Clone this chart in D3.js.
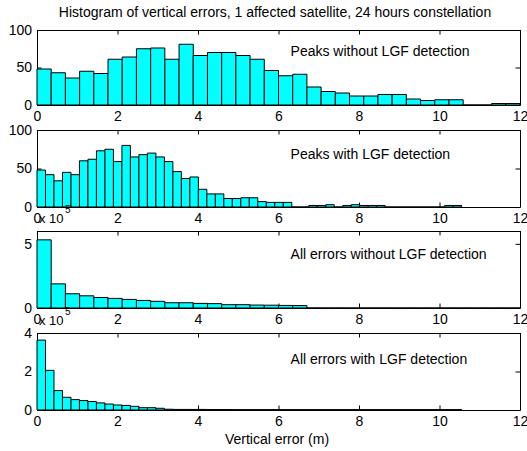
<!DOCTYPE html>
<html>
<head>
<meta charset="utf-8">
<script src="https://cdn.jsdelivr.net/npm/d3@7"></script>
<style>
  html, body { margin: 0; padding: 0; background: #fff; }
  svg { display: block; }
  text { font-family: "Liberation Sans", Arial, Helvetica, sans-serif; fill: #000; }
</style>
</head>
<body>
<svg id="chart" width="527" height="451"></svg>
<script>
// Histogram counts per bin (vertical error in metres)
const peaksWithoutLGF = [48, 43, 36, 45, 42, 61, 64, 75, 76, 61, 81, 66, 70, 70, 66, 61, 46,
  39, 41, 24, 18, 16, 12, 12, 14, 14, 8, 6, 7, 7, 0, 0, 2, 2];
const peaksWithLGF = [48, 42, 34, 45, 42, 60, 62, 73, 75, 59, 80, 65, 68, 70, 65, 59, 46,
  37, 39, 23, 17, 17, 11, 11, 12, 12, 7, 6, 6, 6, 0, 0, 2, 2, 3, 0, 2, 3, 2, 2,
  2, 0, 0, 0, 0, 0, 0, 0, 2, 2];
const allWithoutLGF = [531000, 188000, 111000, 95000, 82000, 75000, 67000, 59000, 52000,
  41000, 41000, 36000, 34000, 26000, 26000, 23000, 22000, 20000, 19000,
  0, 0, 0, 0, 0, 0, 0, 0, 0, 0, 0, 0, 0, 0, 0];
const allWithLGF = [363000, 206000, 101000, 66000, 54000, 49000, 44000, 37000, 31000,
  26000, 24000, 19000, 12000, 12000, 9000, 4000, 3000, 3000, 3000, 3000, 2500, 2500,
  2500, 2000, 2000, 2000, 2000, 2000, 2000, 2000, 2000, 2000, 2000, 2000, 2000, 2000,
  2000, 2000, 2000, 2000, 2000, 2000, 2000, 2000, 2000, 2000, 2000, 2000, 2000, 2000];

// Bin widths (m) for the two histogram resolutions
const coarseBinWidth = 12 / 34;
const fineBinWidth = 10.55 / 50;

const xTicks = [0, 2, 4, 6, 8, 10, 12];
const panelLabels = ["Peaks without LGF detection", "Peaks with LGF detection",
  "All errors without LGF detection", "All errors with LGF detection"];
const yMax = [100, 100, 600000, 400000];
const yTicks = [[0, 50, 100], [0, 50, 100], [0, 500000], [0, 200000, 400000]];
const yScaleExp = [0, 0, 5, 5];
const labelPos = [[6.3, 66], [6.3, 62.6], [6.3, 379000], [6.3, 239000]];

const titleText = "Histogram of vertical errors, 1 affected satellite, 24 hours constellation";
const xLabelText = "Vertical error (m)";

const series = [
  { values: peaksWithoutLGF, bw: coarseBinWidth },
  { values: peaksWithLGF, bw: fineBinWidth },
  { values: allWithoutLGF, bw: coarseBinWidth },
  { values: allWithLGF, bw: fineBinWidth }
];

const svg = d3.select("#chart");
const left = 37, right = 520;
const frames = [[30, 105], [130, 207], [231, 308], [333, 410]];
const tick = 4.5;
const fontSize = 14;

const x = d3.scaleLinear().domain([0, 12]).range([left, right]);

function styleAxis(g) {
  g.attr("font-size", null).attr("font-family", null);
  g.selectAll("text").attr("font-size", fontSize);
  g.selectAll("path, line").attr("stroke", "#000").attr("stroke-width", 1);
}

series.forEach((s, i) => {
  const [top, bottom] = frames[i];
  const y = d3.scaleLinear().domain([0, yMax[i]]).range([bottom, top]);
  const p = svg.append("g");
  const div = Math.pow(10, yScaleExp[i]);
  const fmt = v => String(Math.round(v / div));

  p.append("g").attr("transform", `translate(0,${bottom})`)
    .call(d3.axisBottom(x).tickValues(xTicks).tickSize(-tick).tickSizeOuter(0).tickPadding(6))
    .call(styleAxis);
  p.append("g").attr("transform", `translate(0,${top})`)
    .call(d3.axisTop(x).tickValues(xTicks).tickSize(-tick).tickSizeOuter(0).tickFormat(""))
    .call(styleAxis);
  p.append("g").attr("transform", `translate(${left},0)`)
    .call(d3.axisLeft(y).tickValues(yTicks[i]).tickSize(-tick).tickSizeOuter(0).tickPadding(5).tickFormat(fmt))
    .call(styleAxis);
  p.append("g").attr("transform", `translate(${right},0)`)
    .call(d3.axisRight(y).tickValues(yTicks[i]).tickSize(-tick).tickSizeOuter(0).tickFormat(""))
    .call(styleAxis);

  // bars (zero-count bins collapse to a line on the baseline)
  p.append("g").selectAll("path").data(s.values).join("path")
    .attr("d", (v, k) => {
      const x0 = x(k * s.bw), x1 = x((k + 1) * s.bw);
      const y0 = y(0), y1 = y(v);
      return `M${x0},${y0}V${y1}H${x1}V${y0}Z`;
    })
    .attr("fill", "#00ffff")
    .attr("stroke", "#000")
    .attr("stroke-width", 1);

  p.append("text")
    .attr("x", x(labelPos[i][0]))
    .attr("y", y(labelPos[i][1]))
    .attr("font-size", fontSize)
    .text(panelLabels[i]);

  if (yScaleExp[i]) {
    p.append("text").attr("x", left + 2).attr("y", top - 8.5)
      .attr("font-size", 13).text("x 10");
    p.append("text").attr("x", left + 28).attr("y", top - 18)
      .attr("font-size", 10).text(String(yScaleExp[i]));
  }
});

svg.append("text")
  .attr("x", 275).attr("y", 17)
  .attr("text-anchor", "middle")
  .attr("font-size", fontSize)
  .text(titleText);

svg.append("text")
  .attr("x", 277).attr("y", 444)
  .attr("text-anchor", "middle")
  .attr("font-size", fontSize)
  .text(xLabelText);
</script>
</body>
</html>
